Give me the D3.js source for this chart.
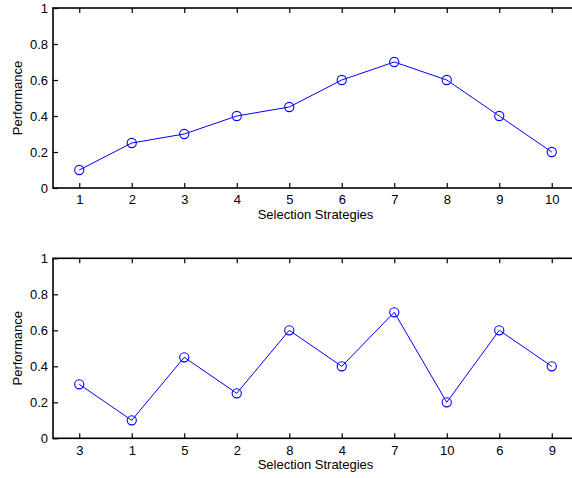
<!DOCTYPE html>
<html><head><meta charset="utf-8">
<script src="https://cdn.jsdelivr.net/npm/d3@7"></script>
<style>body{margin:0;background:#fff}svg{display:block}text{font-family:"Liberation Sans",Arial,sans-serif;font-size:13px;fill:#000}</style>
</head><body><svg id="c" width="572" height="478"></svg>
<script>
const strategies = [1,2,3,4,5,6,7,8,9,10];
const performance = [0.1,0.25,0.3,0.4,0.45,0.6,0.7,0.6,0.4,0.2];
const order2 = [3,1,5,2,8,4,7,10,6,9];
const performance2 = [0.3,0.1,0.45,0.25,0.6,0.4,0.7,0.2,0.6,0.4];
const yTicks = [0,0.2,0.4,0.6,0.8,1];
const xLabel = "Selection Strategies", yLabel = "Performance";

const svg = d3.select("#c");
const L = 53, R = 578;
function panel(top, bottom, labels, vals){
  const g = svg.append("g");
  const x = d3.scaleLinear().domain([0.5,10.5]).range([L,R]);
  const y = d3.scaleLinear().domain([0,1]).range([bottom,top]);
  const pos = labels.map((d,i)=>i+1);
  g.append("rect").attr("x",L).attr("y",top).attr("width",R-L).attr("height",bottom-top)
    .attr("fill","none").attr("stroke","#000").attr("stroke-width",1.6);
  const xb = g.append("g").attr("transform",`translate(0,${bottom})`)
    .call(d3.axisBottom(x).tickValues(pos).tickFormat((d,i)=>labels[i]).tickSizeInner(-5).tickSizeOuter(0).tickPadding(7));
  const xt = g.append("g").attr("transform",`translate(0,${top})`)
    .call(d3.axisTop(x).tickValues(pos).tickFormat("").tickSizeInner(-5).tickSizeOuter(0));
  const yl = g.append("g").attr("transform",`translate(${L},0)`)
    .call(d3.axisLeft(y).tickValues(yTicks).tickFormat(d3.format("~g")).tickSizeInner(-5).tickSizeOuter(0).tickPadding(5));
  [xb,xt,yl].forEach(a=>{a.select(".domain").remove();a.selectAll("line").attr("stroke","#000").attr("stroke-width",1.2);
    a.selectAll("text").style("font-family",'"Liberation Sans",Arial,sans-serif').style("font-size","13px").attr("fill","#000");});
  xb.selectAll("text").attr("dy","0.71em");
  g.append("path").datum(vals).attr("fill","none").attr("stroke","#0000ff").attr("stroke-width",1)
    .attr("d",d3.line().x((d,i)=>x(pos[i])).y(d=>y(d)));
  g.selectAll("circle.m").data(vals).enter().append("circle").attr("class","m")
    .attr("cx",(d,i)=>x(pos[i])).attr("cy",d=>y(d)).attr("r",4.6)
    .attr("fill","none").attr("stroke","#0000ff").attr("stroke-width",1.1);
  g.append("text").attr("x",(L+R)/2).attr("y",bottom+31).attr("text-anchor","middle").text(xLabel);
  g.append("text").attr("transform",`translate(22,${(top+bottom)/2}) rotate(-90)`).attr("text-anchor","middle").text(yLabel);
}
panel(8,188,strategies,performance);
panel(258.3,438.3,order2,performance2);
</script></body></html>
